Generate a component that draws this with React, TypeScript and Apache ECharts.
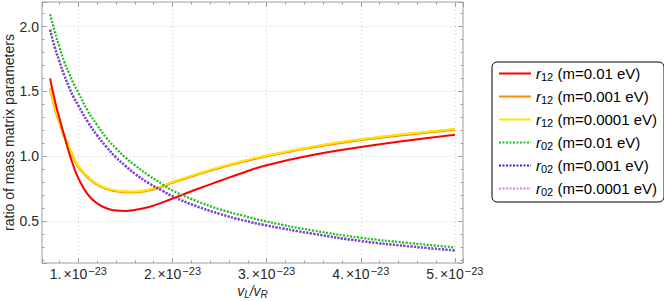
import React, { useEffect, useRef } from "react";
import * as echarts from "echarts";

// x in units of 1e-23 (v_L / v_R)
const xValues = [0.7, 0.75, 0.8, 0.85, 0.9, 0.95, 1.0, 1.1, 1.2, 1.3, 1.4, 1.5, 1.6, 1.75, 1.9, 2.0, 2.25, 2.5, 2.75, 3.0, 3.5, 4.0, 4.5, 5.0];

const r12_m001 = [1.60, 1.43, 1.29, 1.16, 1.03, 0.92, 0.83, 0.705, 0.635, 0.598, 0.58, 0.577, 0.585, 0.607, 0.645, 0.672, 0.742, 0.808, 0.872, 0.93, 1.01, 1.07, 1.12, 1.165];
const r12_m0001 = [1.525, 1.375, 1.26, 1.155, 1.065, 0.985, 0.92, 0.836, 0.781, 0.748, 0.731, 0.723, 0.722, 0.737, 0.768, 0.796, 0.856, 0.911, 0.958, 1.001, 1.071, 1.126, 1.168, 1.206];
const r12_m00001 = [1.53, 1.38, 1.265, 1.16, 1.07, 0.99, 0.925, 0.84, 0.785, 0.752, 0.735, 0.727, 0.726, 0.742, 0.772, 0.80, 0.86, 0.915, 0.962, 1.005, 1.075, 1.13, 1.172, 1.21];
const r02_m001 = [2.095, 1.96, 1.84, 1.73, 1.64, 1.56, 1.49, 1.35, 1.24, 1.14, 1.06, 0.99, 0.93, 0.85, 0.78, 0.735, 0.655, 0.59, 0.54, 0.495, 0.425, 0.37, 0.33, 0.295];
const r02_m0001 = [1.975, 1.84, 1.73, 1.625, 1.535, 1.455, 1.39, 1.265, 1.16, 1.07, 0.99, 0.925, 0.865, 0.79, 0.73, 0.69, 0.615, 0.555, 0.505, 0.465, 0.40, 0.345, 0.305, 0.272];
const r02_m00001 = [1.975, 1.84, 1.73, 1.625, 1.535, 1.455, 1.39, 1.265, 1.16, 1.07, 0.99, 0.925, 0.865, 0.79, 0.73, 0.69, 0.615, 0.555, 0.505, 0.465, 0.40, 0.345, 0.305, 0.272];

const seriesNames = [
  "r12 (m=0.01 eV)",
  "r12 (m=0.001 eV)",
  "r12 (m=0.0001 eV)",
  "r02 (m=0.01 eV)",
  "r02 (m=0.001 eV)",
  "r02 (m=0.0001 eV)",
];
const seriesData = [r12_m001, r12_m0001, r12_m00001, r02_m001, r02_m0001, r02_m00001];
const seriesColors = ["#ff0000", "#ff8a00", "#ffe800", "#1fbf1f", "#2a2ae0", "#b050c8"];
const seriesDotted = [false, false, false, true, true, true];

const xMin = 0.614;
const xMax = 5.086;
const yMin = 0.175;
const yMax = 2.19;

const FONT = "'Liberation Sans', Arial, Helvetica, sans-serif";
const FRAME = "#a0a0a0";
const LABEL = "#2a2a2a";

export default function App() {
  const ref = useRef<HTMLDivElement>(null);
  useEffect(() => {
    if (!ref.current) return;
    const chart = echarts.init(ref.current, undefined, { renderer: "svg" });
    const tickCommon = {
      axisLine: { show: false },
      axisTick: { show: true, inside: true, length: 5, lineStyle: { color: FRAME, width: 1 } },
      minorTick: { show: true, splitNumber: 5, length: 2.5, lineStyle: { color: FRAME, width: 1 } },
    };
    const series = seriesNames.map((name, i) => ({
      name,
      type: "line",
      data: xValues.map((x, j) => [x, seriesData[i][j]]),
      symbol: "none",
      smooth: 0.5,
      z: i === 1 ? 1 : i === 2 ? 2 : 3,
      lineStyle: seriesDotted[i]
        ? { color: seriesColors[i], width: 2.3, type: [2, 1.5], opacity: i === 5 ? 0.7 : 1 }
        : { color: seriesColors[i], width: i === 1 ? 2.6 : 2 },
      itemStyle: { color: seriesColors[i] },
    }));
    chart.setOption({
      animation: false,
      textStyle: { fontFamily: FONT },
      grid: {
        left: 42,
        right: 201,
        top: 2,
        bottom: 38,
        show: true,
        borderColor: FRAME,
        borderWidth: 1,
        containLabel: false,
        outerBoundsMode: "none",
      },
      xAxis: [
        {
          type: "value",
          min: xMin,
          max: xMax,
          position: "bottom",
          ...tickCommon,
          splitLine: { show: true, lineStyle: { color: "#c8c8c8", type: [1, 3], width: 1 } },
          axisLabel: {
            show: true,
            margin: 2,
            showMinLabel: false,
            showMaxLabel: false,
            color: LABEL,
            fontSize: 14,
            formatter: (v: number) =>
              Number.isInteger(v) ? `{n|${v}.}{x|×10}{e|−23}` : "",
            rich: {
              n: { fontSize: 14, lineHeight: 17, fontFamily: FONT, color: LABEL },
              x: { fontSize: 14, lineHeight: 17, fontFamily: FONT, color: LABEL, padding: [0, 0, 0, 2] },
              e: { fontSize: 11, lineHeight: 11, verticalAlign: "top", fontFamily: FONT, color: LABEL, padding: [0, 0, 0, 1] },
            },
          },
          name: "{v|v}{s|L}{v|/v}{s|R}",
          nameLocation: "middle",
          nameGap: 19,
          nameMoveOverlap: false,
          nameTextStyle: {
            rich: {
              v: { fontSize: 14, fontStyle: "italic", lineHeight: 17, fontFamily: FONT, color: LABEL },
              s: { fontSize: 10, fontStyle: "italic", lineHeight: 11, verticalAlign: "bottom", fontFamily: FONT, color: LABEL },
            },
          },
        },
        {
          type: "value",
          min: xMin,
          max: xMax,
          position: "top",
          ...tickCommon,
          splitLine: { show: false },
          axisLabel: { show: false },
        },
      ],
      yAxis: [
        {
          type: "value",
          min: yMin,
          max: yMax,
          position: "left",
          ...tickCommon,
          splitLine: { show: true, lineStyle: { color: "#c8c8c8", type: [1, 3], width: 1 } },
          axisLabel: {
            show: true,
            margin: 3,
            showMinLabel: false,
            showMaxLabel: false,
            fontSize: 14,
            color: LABEL,
            fontFamily: FONT,
            formatter: (v: number) => (Math.abs(v * 2 - Math.round(v * 2)) < 1e-9 ? v.toFixed(1) : ""),
          },
          name: "ratio of mass matrix parameters",
          nameLocation: "middle",
          nameGap: 26,
          nameMoveOverlap: false,
          nameTextStyle: { fontSize: 14, color: LABEL, fontFamily: FONT },
        },
        {
          type: "value",
          min: yMin,
          max: yMax,
          position: "right",
          ...tickCommon,
          splitLine: { show: false },
          axisLabel: { show: false },
        },
      ],
      legend: {
        show: true,
        orient: "vertical",
        left: 492,
        top: 62,
        itemWidth: 32,
        itemHeight: 14,
        itemGap: 7,
        padding: [4, 7, 5, 6],
        borderColor: "#000",
        borderWidth: 1,
        borderRadius: 5,
        backgroundColor: "#fff",
        itemStyle: { opacity: 0 },
        data: seriesNames,
        formatter: (name: string) => name.replace(/^r(\d+) /, "{i|r}{s|$1} "),
        textStyle: {
          fontSize: 15,
          color: "#000",
          fontFamily: FONT,
          rich: {
            i: { fontSize: 15, fontStyle: "italic", lineHeight: 17, fontFamily: FONT, color: "#000" },
            s: { fontSize: 11, lineHeight: 11, verticalAlign: "bottom", fontFamily: FONT, color: "#000" },
          },
        },
      },
      series,
    });
    return () => chart.dispose();
  }, []);
  return (
    <div
      ref={ref}
      style={{ position: "absolute", left: 0, top: 0, width: 664, height: 301 }}
    />
  );
}
